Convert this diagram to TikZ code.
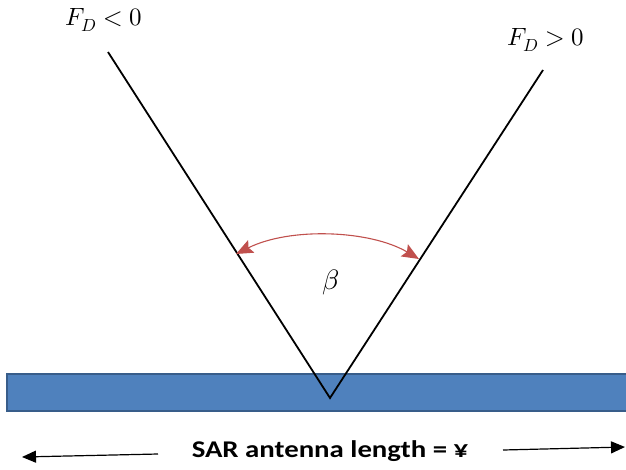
\documentclass[tikz,border=0pt]{standalone}
\usepackage{fontspec}
\usepackage{unicode-math}
\setmainfont{Carlito}
\setmathfont{Latin Modern Math}
\usetikzlibrary{arrows.meta}
\definecolor{barblue}{HTML}{4F81BD}
\definecolor{baredge}{HTML}{385D8A}
\definecolor{arcred}{HTML}{C0504D}
\tikzset{
  beam/.style={line width=1.8pt, black},
  dimarrow/.style={line width=1.2pt, -{Triangle[length=14pt,width=12pt]}},
  arctip/.tip={Stealth[length=17pt,width=14pt,inset=3pt]},
  lbl/.style={inner sep=0pt, font=\fontsize{25}{30}\selectfont},
}
\begin{document}
\begin{tikzpicture}[x=1pt,y=-1pt]
\useasboundingbox (0,0) rectangle (626,469);
% antenna bar
\draw[fill=barblue, draw=baredge, line width=1.2pt] (7,374) rectangle (628,411);
% beam lines
\coordinate (apex) at (330,398);
\coordinate (ltop) at (108,52);
\coordinate (rtop) at (543,70);
\draw[beam] (ltop) -- (apex) -- (rtop);
% angle arc
\coordinate (al) at (236,254);
\coordinate (ar) at (419,259);
\draw[arcred, line width=1.1pt, arctip-arctip]
  (al) .. controls (290,227) and (370,230) .. (ar);
\node[inner sep=0pt, font=\fontsize{28}{32}\selectfont] (beta) at (331,282) {$\beta$};
\node[lbl] (fneg) at (104,20) {$F_D < 0$};
\node[lbl] (fpos) at (546,40) {$F_D > 0$};
% length label
\node[inner sep=0pt, xscale=1.2, font=\bfseries\fontsize{24}{28}\selectfont] (len) at (330,451) {SAR antenna length = ¥};
\coordinate (lend) at (22,457);
\coordinate (rend) at (625,447);
\draw[dimarrow] (158,454) -- (lend);
\draw[dimarrow] (503,450) -- (rend);
\end{tikzpicture}
\end{document}
